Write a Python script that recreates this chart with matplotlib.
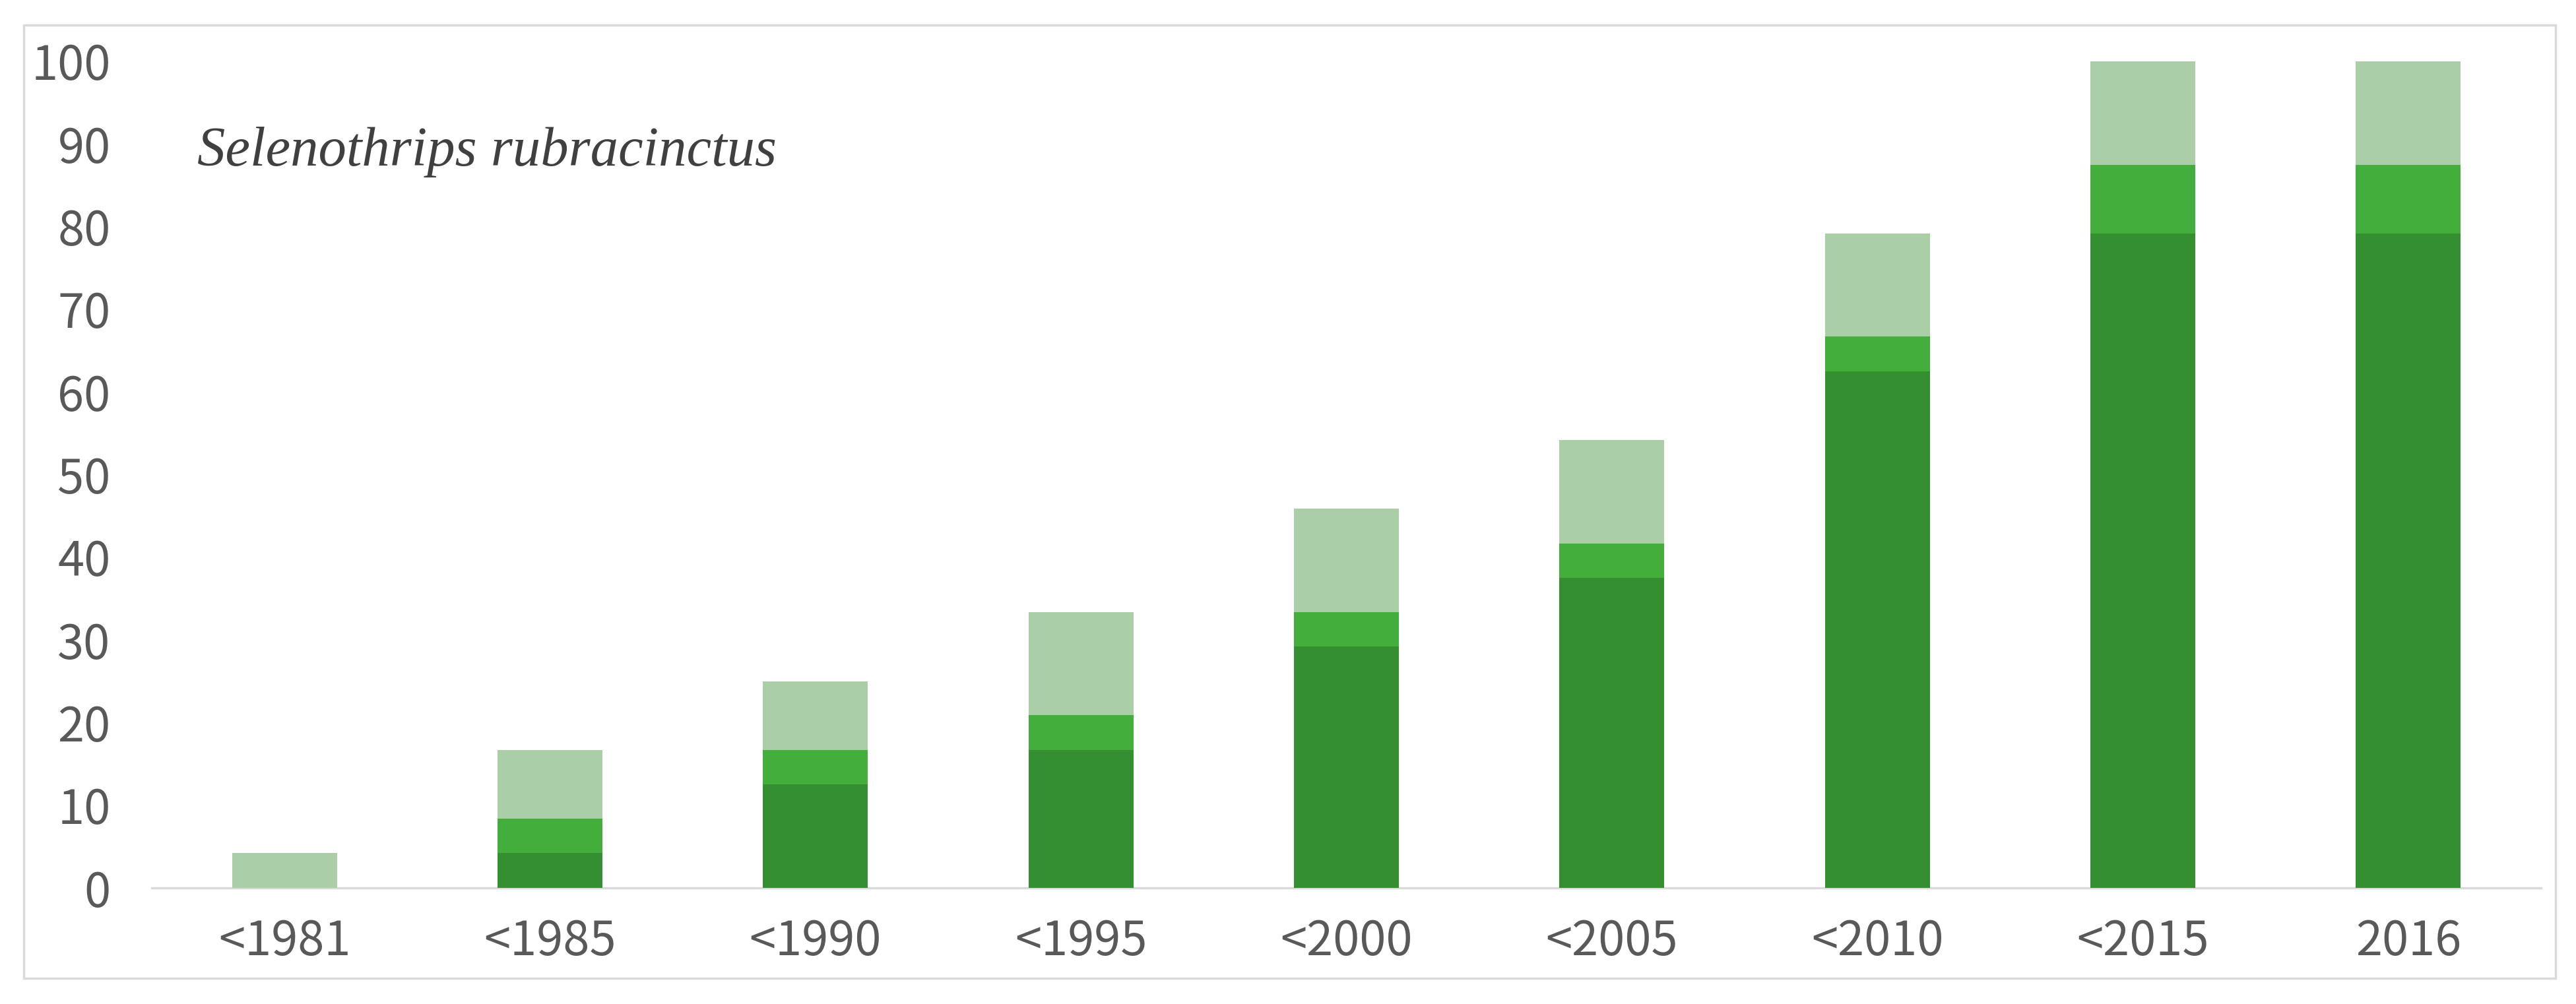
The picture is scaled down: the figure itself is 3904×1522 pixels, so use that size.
import matplotlib
matplotlib.use("Agg")
import matplotlib.pyplot as plt
import matplotlib.patches as mpatches
import numpy as np

# dados (% acumulado por período)
periodos = ['<1981', '<1985', '<1990', '<1995', '<2000', '<2005', '<2010', '<2015', '2016']
escuro = [0.0, 4.2, 12.5, 16.7, 29.2, 37.5, 62.5, 79.2, 79.2]
medio  = [0.0, 4.2, 4.2, 4.2, 4.2, 4.2, 4.2, 8.3, 8.3]
claro  = [4.2, 8.3, 8.3, 12.5, 12.5, 12.5, 12.5, 12.5, 12.5]
yticks = list(range(0, 101, 10))

C_ESC = '#338F2F'
C_MED = '#44AE3C'
C_CLA = '#AACFA7'
C_TXT = '#595959'
C_BORDA = '#D9D9D9'

plt.rcParams['font.family'] = ['Noto Sans CJK SC', 'DejaVu Sans']

fig = plt.figure(figsize=(39.05, 15.22), dpi=100)
fig.patch.set_facecolor('white')
ax = fig.add_axes([0.0589, 0.1156, 0.9273, 0.8233])

x = np.arange(len(periodos))
base2 = np.array(escuro) + np.array(medio)
ax.bar(x, escuro, width=0.395, color=C_ESC, zorder=3)
ax.bar(x, medio, width=0.395, bottom=escuro, color=C_MED, zorder=3)
ax.bar(x, claro, width=0.395, bottom=base2, color=C_CLA, zorder=3)

ax.set_xlim(-0.5, len(periodos) - 0.5)
ax.set_ylim(0, 100)
ax.set_yticks(yticks)
ax.set_xticks(x)
ax.set_xticklabels(periodos)
ax.tick_params(axis='both', length=0, labelsize=52, labelcolor=C_TXT)
ax.tick_params(axis='y', pad=45)
ax.tick_params(axis='x', pad=32)

for s in ['top', 'right', 'left']:
    ax.spines[s].set_visible(False)
ax.spines['bottom'].set_color(C_BORDA)
ax.spines['bottom'].set_linewidth(2.5)
ax.spines['bottom'].set_zorder(2)

fig.text(0.0766, 0.835, 'Selenothrips rubracinctus', fontsize=61,
         family=['Liberation Serif'], style='italic', color='#404040',
         va='baseline', ha='left')

# moldura externa do gráfico
moldura = mpatches.Rectangle((0.0092, 0.0256), 0.9826, 0.9494,
                             transform=fig.transFigure, fill=False,
                             edgecolor=C_BORDA, linewidth=2.5)
fig.patches.append(moldura)

fig.savefig('out.png', dpi=100)
